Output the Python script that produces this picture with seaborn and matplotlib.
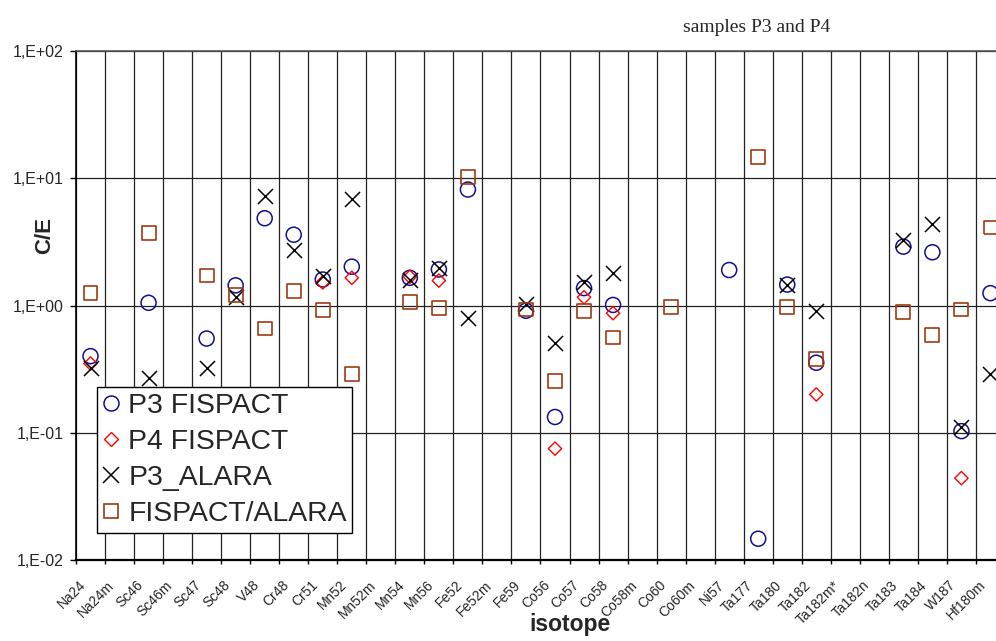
import numpy as np
import pandas as pd
import matplotlib
matplotlib.use("Agg")
import matplotlib.pyplot as plt
from matplotlib.lines import Line2D
import seaborn as sns

nan = np.nan

categories = ["Na24", "Na24m", "Sc46", "Sc46m", "Sc47", "Sc48", "V48", "Cr48",
              "Cr51", "Mn52", "Mn52m", "Mn54", "Mn56", "Fe52", "Fe52m", "Fe59",
              "Co56", "Co57", "Co58", "Co58m", "Co60", "Co60m", "Ni57", "Ta177",
              "Ta180", "Ta182", "Ta182m*", "Ta182n", "Ta183", "Ta184", "W187", "Hf180m"]

p3_fispact = [0.40, nan, 1.05, nan, 0.55, 1.44, 4.85, 3.6, 1.6, 2.02, nan, 1.65,
              1.92, 8.15, nan, 0.91, 0.133, 1.37, 1.01, nan, nan, nan, 1.9, 0.0147,
              1.46, 0.355, nan, nan, 2.9, 2.62, 0.103, 1.25]
p4_fispact = [0.35, nan, nan, nan, nan, nan, nan, nan, 1.52, 1.65, nan, 1.68,
              1.57, nan, nan, nan, 0.075, 1.16, 0.87, nan, nan, nan, nan, nan,
              nan, 0.20, nan, nan, nan, nan, 0.044, nan]
p3_alara = [0.32, nan, 0.27, nan, 0.32, 1.16, 7.2, 2.75, 1.72, 6.9, nan, 1.58,
            1.98, 0.80, nan, 1.02, 0.51, 1.52, 1.81, nan, nan, nan, nan, nan,
            1.46, 0.91, nan, nan, 3.3, 4.4, 0.11, 0.29]
fispact_alara = [1.25, nan, 3.7, nan, 1.72, 1.2, 0.66, 1.31, 0.92, 0.29, nan, 1.06,
                 0.95, 10.2, nan, 0.93, 0.257, 0.91, 0.56, nan, 0.98, nan, nan, 14.6,
                 0.98, 0.38, nan, nan, 0.89, 0.59, 0.93, 4.1]

series_names = ["P3 FISPACT", "P4 FISPACT", "P3_ALARA", "FISPACT/ALARA"]
series_values = [p3_fispact, p4_fispact, p3_alara, fispact_alara]

ytick_values = [1e-2, 1e-1, 1e0, 1e1, 1e2]
ytick_labels = ["1,E-02", "1,E-01", "1,E+00", "1,E+01", "1,E+02"]

title_text = "samples P3 and P4"

rows = []
for name, vals in zip(series_names, series_values):
    for i, v in enumerate(vals):
        rows.append({"idx": i, "isotope": categories[i], "value": v, "series": name})
df = pd.DataFrame(rows).dropna()

sns.set_style("white")
plt.rcParams["font.family"] = ["Liberation Sans", "DejaVu Sans"]

W, H = 996, 641
fig = plt.figure(figsize=(W / 100, H / 100), dpi=100)
ax_left, ax_top, ax_bottom = 76, 51, 560
ax = fig.add_axes([ax_left / W, 1 - ax_bottom / H, 1 - ax_left / W, (ax_bottom - ax_top) / H])

colors = {"P3 FISPACT": "#101090", "P4 FISPACT": "#ff0000",
          "P3_ALARA": "black", "FISPACT/ALARA": "#a03a10"}
styles = {
    "P3 FISPACT": dict(marker="o", s=117, facecolor="none", linewidth=1.1),
    "P4 FISPACT": dict(marker="D", s=46, facecolor="none", linewidth=1.0),
    "P3_ALARA": dict(marker="x", s=117, linewidth=1.1),
    "FISPACT/ALARA": dict(marker="s", s=100, facecolor="none", linewidth=1.2),
}

for name in series_names:
    sub = df[df["series"] == name]
    kw = dict(styles[name])
    c = colors[name]
    if kw.get("facecolor") == "none":
        kw["edgecolor"] = c
    sns.scatterplot(data=sub, x="idx", y="value", ax=ax, color=c, zorder=3, legend=False, **kw)

ax.set_yscale("log")
ax.set_ylim(1e-2, 1e2)
spacing = 29.03
ax.set_xlim(-0.5, -0.5 + (W - ax_left) / spacing)

ax.yaxis.set_major_locator(matplotlib.ticker.FixedLocator(ytick_values))
ax.yaxis.set_minor_locator(matplotlib.ticker.NullLocator())
ax.set_yticklabels(ytick_labels)

bounds = np.arange(len(categories)) - 0.5
ax.set_xticks(bounds)
ax.set_xticklabels([])
ax.set_xticks(np.arange(len(categories)) - 0.42, minor=True)
ax.set_xticklabels(categories, minor=True, rotation=45, ha="right", va="top",
                   rotation_mode="anchor", fontsize=10)

ax.tick_params(axis="x", which="major", direction="out", length=3, width=1, color="black", bottom=True)
ax.tick_params(axis="x", which="minor", length=0, pad=13)
ax.tick_params(axis="y", which="major", direction="out", length=4, width=1, color="black",
               left=True, labelsize=11.5, pad=5)

ax.grid(True, which="major", axis="both", color="#222222", linewidth=0.9)
ax.set_axisbelow(True)

ax.spines["right"].set_visible(False)
ax.spines["top"].set_color("#555555")
ax.spines["top"].set_linewidth(1.2)
ax.spines["left"].set_color("black")
ax.spines["left"].set_linewidth(1.2)
ax.spines["bottom"].set_color("black")
ax.spines["bottom"].set_linewidth(1.6)

ax.set_xlabel("isotope", fontsize=16.5, fontweight="bold")
ax.xaxis.set_label_coords((570 - ax_left) / (W - ax_left), (ax_bottom - 625) / (ax_bottom - ax_top))
ax.xaxis.label.set_va("center")
ax.set_ylabel("C/E", fontsize=16, fontweight="bold")
ax.yaxis.set_label_coords((45 - ax_left) / (W - ax_left), (ax_bottom - 236) / (ax_bottom - ax_top))
ax.yaxis.label.set_va("center")

handles = []
for name in series_names:
    st = styles[name]
    ms = np.sqrt(st["s"])
    if st["marker"] == "x":
        h = Line2D([], [], linestyle="none", marker="x", markersize=ms, color=colors[name],
                   markeredgewidth=st["linewidth"])
    else:
        h = Line2D([], [], linestyle="none", marker=st["marker"], markersize=ms,
                   markerfacecolor="none", markeredgecolor=colors[name],
                   markeredgewidth=st["linewidth"])
    handles.append(h)

leg = ax.legend(handles, series_names, loc="upper left", bbox_to_anchor=(97 / W, 1 - 387 / H),
                bbox_transform=fig.transFigure, fontsize=20.4, frameon=True,
                fancybox=False, framealpha=1, edgecolor="black", borderpad=0.2,
                labelspacing=0.36, handlelength=0.6, handletextpad=0.3,
                borderaxespad=0, numpoints=1)
leg.get_frame().set_linewidth(1.0)
leg.set_zorder(5)

fig.text(757 / W, 1 - 27 / H, title_text, ha="center", va="center",
         fontsize=14, family=["Liberation Serif", "DejaVu Serif"])

fig.savefig("out.png", dpi=100)
